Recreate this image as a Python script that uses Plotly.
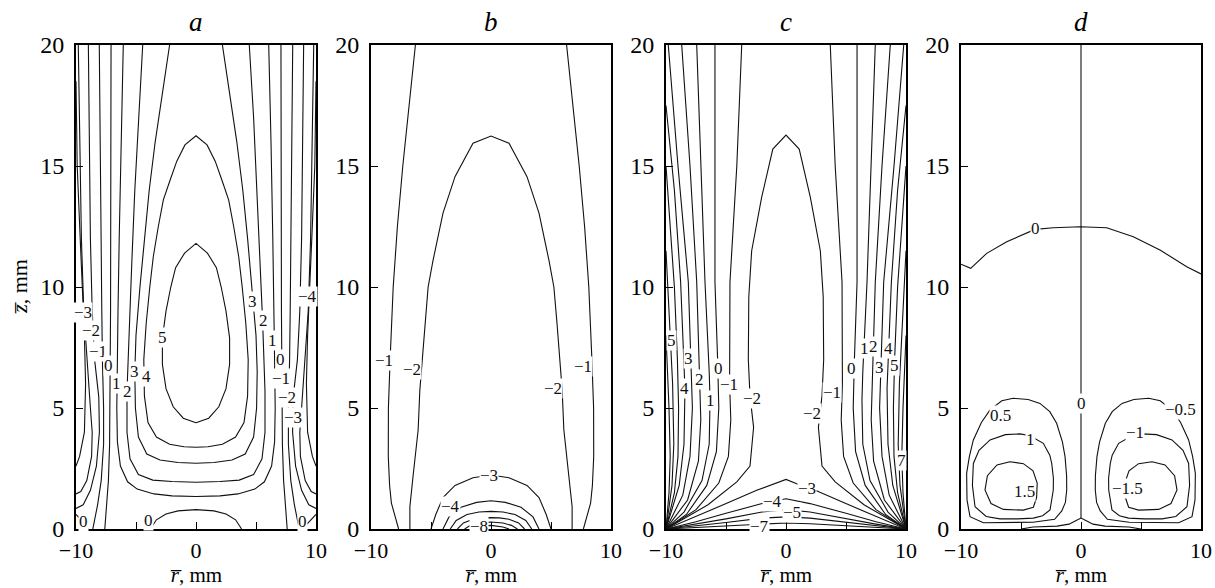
import plotly.graph_objects as go

# ---------------- data (r, z in mm) ----------------
# Panel a: lines mirrored to the right as separate lines
A_PAIR_LEVELS = [-4, -3, -2, -1, 0, 0]
A_PAIR_R = [
    [-10.0, -9.9, -9.65, -9.45, -9.3, -9.2, -9.3, -9.7, -10.0],
    [-9.81, -9.7, -9.55, -9.35, -9.1, -8.8, -8.65, -8.7, -9.1, -9.6, -10.0],
    [-8.97, -8.9, -8.8, -8.65, -8.45, -8.1, -8.05, -8.3, -8.8, -9.4, -10.0],
    [-8.06, -8.0, -7.95, -7.85, -7.8, -7.7, -7.7, -7.9, -8.2, -8.6],
    [-7.08, -7.08, -7.1, -7.12, -7.15, -7.15, -7.2, -7.3, -7.45, -7.6],
    [-10.0, -9.6, -9.25, -9.0],
]
A_PAIR_Z = [
    [18.5, 15, 12, 10, 8, 6, 4, 3, 2.6],
    [20, 16, 12, 9, 7, 5, 4, 3, 2.0, 1.55, 1.45],
    [20, 16, 12, 9, 7, 5.45, 4, 2.6, 1.6, 1.0, 0.85],
    [20, 16, 12, 9, 7, 5, 3.5, 2.0, 1.0, 0],
    [20, 16, 12, 9, 7, 5, 3.5, 2.0, 1.0, 0],
    [0.6, 0.4, 0.2, 0],
]
# Panel a: left halves ending at r = 0, joined with their mirror image
A_JOIN_LEVELS = [5, 4, 3, 2, 1, 0]
A_JOIN_R = [
    [0, -1.06, -1.9, -2.5, -2.8, -2.8, -2.5, -2.1, -1.7, -0.95, 0],
    [0, -1.0, -2.2, -3.3, -4.0, -4.3, -4.35, -4.15, -3.85, -3.56, -3.14, -2.72, -2.17, -1.6, -0.92, 0],
    [-2.2, -2.8, -3.4, -3.9, -4.3, -4.67, -5.0, -5.1, -5.05, -4.8, -4.1, -3.0, -1.5, 0],
    [-4.44, -4.8, -5.1, -5.35, -5.55, -5.75, -5.75, -5.5, -4.8, -3.6, -2.0, 0],
    [-6.06, -6.25, -6.4, -6.5, -6.55, -6.6, -6.55, -6.3, -5.7, -4.9, -3.5, -2.0, 0],
    [-3.8, -3.3, -2.5, -1.5, 0],
]
A_JOIN_Z = [
    [4.39, 4.58, 5.05, 5.8, 6.8, 7.9, 9.0, 10.0, 10.8, 11.4, 11.8],
    [3.38, 3.4, 3.5, 3.8, 4.4, 5.5, 7.0, 8.5, 10.0, 11.25, 12.5, 13.6, 14.4, 15.2, 15.87, 16.25],
    [20, 18, 16, 14, 12, 10, 8, 6.5, 5.0, 3.8, 3.1, 2.85, 2.75, 2.72],
    [20, 17, 14, 11, 8.6, 5.7, 4.0, 2.9, 2.25, 2.02, 1.96, 1.93],
    [20, 16, 12, 9, 7, 5, 3.6, 2.6, 1.95, 1.65, 1.45, 1.37, 1.34],
    [0, 0.38, 0.62, 0.75, 0.8],
]
A_LABEL_TEXT = ["−3", "−2", "−1", "0", "1", "2", "3", "4", "5",
                "3", "2", "1", "0", "−1", "−2", "−3", "−4", "0", "0", "0"]
A_LABEL_R = [-9.42, -8.75, -8.2, -7.3, -6.6, -5.75, -5.1, -4.1, -2.8,
             4.67, 5.6, 6.4, 7.0, 7.1, 7.55, 8.1, 9.3, -9.4, -3.97, 8.9]
A_LABEL_Z = [8.95, 8.2, 7.35, 6.75, 6.0, 5.7, 6.5, 6.3, 7.9,
             9.4, 8.6, 7.8, 7.0, 6.2, 5.45, 4.6, 9.6, 0.3, 0.37, 0.3]

# Panel b
B_PAIR_LEVELS = [-1]
B_PAIR_R = [[-6.3, -6.85, -7.35, -7.8, -8.15, -8.4, -8.55, -8.56, -8.45, -8.3, -7.7]]
B_PAIR_Z = [[20, 17.5, 15, 12.5, 10, 7.1, 5, 3, 1.8, 1.07, 0]]
B_JOIN_LEVELS = [-2, -3, -4, -5, -6, -7, -8]
B_JOIN_R = [
    [-6.76, -6.76, -6.5, -6.07, -5.93, -5.5, -5.24, -4.83, -4.0, -3.0, -1.5, 0],
    [-5.0, -4.6, -4.0, -3.0, -1.5, 0],
    [-4.0, -3.5, -2.5, -1.2, 0],
    [-3.4, -2.9, -2.0, -1.0, 0],
    [-2.8, -2.3, -1.5, -0.7, 0],
    [-2.2, -1.7, -1.0, 0],
    [-1.5, -1.0, -0.5, 0],
]
B_JOIN_Z = [
    [0, 0.92, 2.16, 4.1, 5.74, 8.5, 10.0, 11.1, 13.05, 14.56, 15.94, 16.24],
    [0, 0.6, 1.3, 1.8, 2.12, 2.23],
    [0, 0.5, 0.9, 1.1, 1.17],
    [0, 0.35, 0.6, 0.7, 0.73],
    [0, 0.25, 0.4, 0.46, 0.47],
    [0, 0.15, 0.25, 0.29],
    [0, 0.08, 0.13, 0.15],
]
B_LABEL_TEXT = ["−1", "−2", "−1", "−2", "−3", "−4", "−8"]
B_LABEL_R = [-8.9, -6.57, 7.7, 5.13, -0.13, -3.37, -0.96]
B_LABEL_Z = [6.98, 6.6, 6.71, 5.81, 2.23, 0.95, 0.12]

# Panel c
C_PAIR_LEVELS = [7, 6, 5, 4, 3, 2, 1, 0, -1]
C_PAIR_R = [
    [-10.0, -9.75, -9.65, -9.75, -10.0],
    [-10.0, -9.75, -9.45, -9.35, -9.5, -10.0],
    [-10.0, -9.6, -9.3, -9.05, -8.95, -9.0, -9.3, -10.0],
    [-10.0, -9.3, -8.78, -8.5, -8.42, -8.5, -8.9, -10.0],
    [-9.81, -9.0, -8.14, -7.9, -7.8, -8.0, -8.6, -10.0],
    [-8.69, -8.0, -7.44, -7.17, -7.1, -7.3, -8.2, -10.0],
    [-7.44, -7.1, -6.75, -6.4, -6.33, -6.4, -7.0, -8.5, -10.0],
    [-5.92, -5.92, -5.92, -5.7, -5.6, -5.8, -6.6, -8.3, -10.0],
    [-3.69, -4.1, -4.67, -4.7, -4.6, -4.8, -5.6, -7.5, -10.0],
]
C_PAIR_Z = [
    [8, 5, 3, 1.5, 0],
    [11.5, 9, 6, 3.5, 1.8, 0],
    [15, 12, 10, 7, 5, 3, 1.5, 0],
    [17.5, 14, 10.2, 7, 5.8, 3.5, 1.8, 0],
    [20, 15, 10.2, 7, 5, 3, 1.4, 0],
    [20, 15, 10.2, 6.16, 4.5, 2.8, 1.2, 0],
    [20, 15, 10.2, 6.5, 5.33, 3.5, 2.0, 0.7, 0],
    [20, 15, 10.2, 7, 5.0, 3.2, 1.8, 0.6, 0],
    [20, 15, 10.2, 6, 4.5, 3.0, 1.9, 0.8, 0],
]
C_JOIN_LEVELS = [-2, -3, -4, -5, -6, -7]
C_JOIN_R = [
    [-10.0, -6.5, -4.1, -3.0, -2.7, -3.0, -3.14, -3.1, -2.86, -2.03, -1.1, 0],
    [-10.0, -7.17, -4.94, -2.44, -1.0, 0],
    [-10.0, -7.5, -5.0, -2.0, 0],
    [-10.0, -7.5, -5.0, -2.0, 0],
    [-10.0, -7.5, -5.0, -2.0, 0],
    [-10.0, -5.0, -2.0, 0],
]
C_JOIN_Z = [
    [0, 1.0, 1.95, 2.6, 4.2, 5.5, 7, 9.6, 11.5, 13.7, 15.7, 16.28],
    [0, 0.58, 1.06, 1.6, 1.85, 2.05],
    [0, 0.3, 0.65, 1.05, 1.25],
    [0, 0.2, 0.42, 0.7, 0.8],
    [0, 0.12, 0.27, 0.45, 0.5],
    [0, 0.14, 0.22, 0.25],
]
C_LABEL_TEXT = ["5", "3", "4", "2", "1", "0", "−1", "−2",
                "−1", "−2", "0", "1", "2", "4", "3", "5", "7",
                "−3", "−4", "−5", "−7"]
C_LABEL_R = [-9.53, -8.14, -8.42, -7.17, -6.33, -5.64, -4.74, -2.86,
             3.8, 2.14, 5.47, 6.53, 7.28, 8.53, 7.78, 9.08, 9.64,
             1.72, -1.12, 0.54, -2.17]
C_LABEL_Z = [7.8, 7.05, 5.8, 6.16, 5.33, 6.64, 5.98, 5.4,
             5.63, 4.78, 6.64, 7.47, 7.53, 7.47, 6.68, 6.74, 2.85,
             1.68, 1.13, 0.67, 0.12]

# Panel d (antisymmetric: right loops are mirrored, levels negated)
D_LOOP_LEVELS = [0.5, 1, 1.5]
D_LOOP_R = [
    [-5.64, -4.4, -3.42, -2.6, -2.03, -1.55, -1.33, -1.2, -1.19, -1.3, -1.6, -2.2, -4.0, -6.0,
     -8.14, -9.25, -9.5, -9.53, -9.3, -8.97, -8.3, -7.58, -6.6, -5.64],
    [-5.08, -4.25, -3.14, -2.6, -2.44, -2.3, -2.31, -2.45, -2.58, -3.2, -3.97, -5.3, -6.75,
     -7.9, -8.83, -9.05, -8.97, -8.5, -7.58, -6.3, -5.08],
    [-5.92, -4.8, -4.0, -3.65, -3.7, -3.97, -4.8, -6.47, -7.5, -8.0, -7.8, -7.0, -5.92],
]
D_LOOP_Z = [
    [5.4, 5.35, 5.19, 4.85, 4.37, 3.6, 2.99, 2.2, 1.61, 1.1, 0.75, 0.4, 0.28, 0.26,
     0.26, 0.51, 1.2, 2.3, 3.0, 3.68, 4.4, 4.92, 5.3, 5.4],
    [3.93, 3.85, 3.54, 3.05, 2.71, 2.1, 1.61, 1.1, 0.79, 0.55, 0.45, 0.42, 0.42,
     0.52, 0.92, 1.8, 2.71, 3.25, 3.68, 3.9, 3.93],
    [2.78, 2.7, 2.4, 1.9, 1.3, 0.9, 0.78, 0.81, 1.05, 1.61, 2.2, 2.65, 2.78],
]
D_ZERO_R = [
    [-10, -9.19, -7.86, -6.19, -3.83, -2.31, -0.08, 2.14, 4.36, 6.58, 8.81, 10],
    [0, 0],
    [-5.0, -4.0, -2.0, -1.0, -0.4, 0, 0.4, 1.0, 2.0, 4.0, 5.0],
]
D_ZERO_Z = [
    [10.94, 10.77, 11.39, 11.87, 12.38, 12.45, 12.49, 12.45, 12.08, 11.53, 10.84, 10.54],
    [20, 0.45],
    [0, 0.08, 0.12, 0.2, 0.35, 0.45, 0.35, 0.2, 0.12, 0.08, 0],
]
D_LABEL_TEXT = ["0", "0.5", "1", "1.5", "0", "−0.5", "−1", "−1.5"]
D_LABEL_R = [-3.83, -6.7, -4.25, -4.67, 0.06, 8.3, 4.5, 3.9]
D_LABEL_Z = [12.4, 4.71, 3.68, 1.54, 5.19, 4.95, 4.0, 1.68]

PANEL_LETTERS = ["a", "b", "c", "d"]
X_TITLE = "<i>r\u0305</i>, mm"
Y_TITLE = "<i>z\u0305</i>, mm"
X_TICKS = [-10, -5, 0, 5, 10]
X_TICK_TEXT = ["−10", "", "0", "", "10"]
Y_TICKS = [0, 5, 10, 15, 20]
Y_TICK_TEXT = ["0", "5", "10", "15", "20"]

# ---------------- figure ----------------
W, H = 1215, 588
LEFTS = [76, 371, 666, 961]
PW = 240
TOP, BOTTOM = 45, 529
LINE = dict(color="#111111", width=1.1)
FONT = "Liberation Serif, Times New Roman, serif"
TICK_SIZE = 24

fig = go.Figure()


def add_line(k, r, z):
    ax = "" if k == 0 else str(k + 1)
    fig.add_trace(go.Scatter(x=r, y=z, mode="lines", line=LINE, xaxis="x" + ax, yaxis="y" + ax,
                             hoverinfo="skip", showlegend=False))


def add_pairs(k, rs, zs):
    for r, z in zip(rs, zs):
        add_line(k, r, z)
        add_line(k, [-v for v in r], z)


def add_joined(k, rs, zs):
    for r, z in zip(rs, zs):
        add_line(k, list(r) + [-v for v in reversed(r)], list(z) + list(reversed(z)))


add_pairs(0, A_PAIR_R, A_PAIR_Z)
add_joined(0, A_JOIN_R, A_JOIN_Z)
add_pairs(1, B_PAIR_R, B_PAIR_Z)
add_joined(1, B_JOIN_R, B_JOIN_Z)
add_pairs(2, C_PAIR_R, C_PAIR_Z)
add_joined(2, C_JOIN_R, C_JOIN_Z)
add_pairs(3, D_LOOP_R, D_LOOP_Z)
for r, z in zip(D_ZERO_R, D_ZERO_Z):
    add_line(3, r, z)

annotations = []
for k, (txts, rr, zz) in enumerate([(A_LABEL_TEXT, A_LABEL_R, A_LABEL_Z),
                                     (B_LABEL_TEXT, B_LABEL_R, B_LABEL_Z),
                                     (C_LABEL_TEXT, C_LABEL_R, C_LABEL_Z),
                                     (D_LABEL_TEXT, D_LABEL_R, D_LABEL_Z)]):
    ax = "" if k == 0 else str(k + 1)
    for t, r, z in zip(txts, rr, zz):
        annotations.append(dict(x=r, y=z, xref="x" + ax, yref="y" + ax, text=t, showarrow=False,
                                bgcolor="white", borderpad=0,
                                font=dict(family=FONT, size=17, color="#111111")))

layout = dict(width=W, height=H, paper_bgcolor="white", plot_bgcolor="white",
              margin=dict(l=0, r=0, t=0, b=0, autoexpand=False),
              font=dict(family=FONT, size=TICK_SIZE, color="black"))
for k in range(4):
    ax = "" if k == 0 else str(k + 1)
    x0 = LEFTS[k] / W
    x1 = (LEFTS[k] + PW) / W
    layout["xaxis" + ax] = dict(
        domain=[x0, x1], range=[-10, 10], anchor="y" + ax, automargin=False,
        tickvals=X_TICKS, ticktext=X_TICK_TEXT, ticks="inside", ticklen=7, tickwidth=1.2,
        tickcolor="black", showline=True, linewidth=2, linecolor="black", mirror=True,
        showgrid=False, zeroline=False, tickfont=dict(family=FONT, size=22),
        ticklabelstandoff=1)
    layout["yaxis" + ax] = dict(
        domain=[1 - BOTTOM / H, 1 - TOP / H], range=[0, 20], anchor="x" + ax, automargin=False,
        tickvals=Y_TICKS, ticktext=Y_TICK_TEXT, ticks="inside", ticklen=7, tickwidth=1.2,
        tickcolor="black", showline=True, linewidth=2, linecolor="black", mirror=True,
        showgrid=False, zeroline=False, tickfont=dict(family=FONT, size=TICK_SIZE),
        ticklabelstandoff=5)
    # panel letter
    annotations.append(dict(x=(LEFTS[k] + PW / 2) / W, y=1 - 22 / H, xref="paper", yref="paper",
                            xanchor="center", yanchor="middle",
                            text="<i>" + PANEL_LETTERS[k] + "</i>", showarrow=False,
                            font=dict(family=FONT, size=27, color="black")))
    # x axis title
    annotations.append(dict(x=(LEFTS[k] + PW / 2) / W, y=1 - 575 / H, xref="paper", yref="paper",
                            xanchor="center", yanchor="middle", text=X_TITLE, showarrow=False,
                            font=dict(family=FONT, size=21, color="black")))
# y axis title (first panel only)
annotations.append(dict(x=19 / W, y=1 - 287 / H, xref="paper", yref="paper",
                        xanchor="center", yanchor="middle", text=Y_TITLE, textangle=-90,
                        showarrow=False, font=dict(family=FONT, size=22, color="black")))
layout["annotations"] = annotations
fig.update_layout(**layout)
fig.write_html("out.html")
